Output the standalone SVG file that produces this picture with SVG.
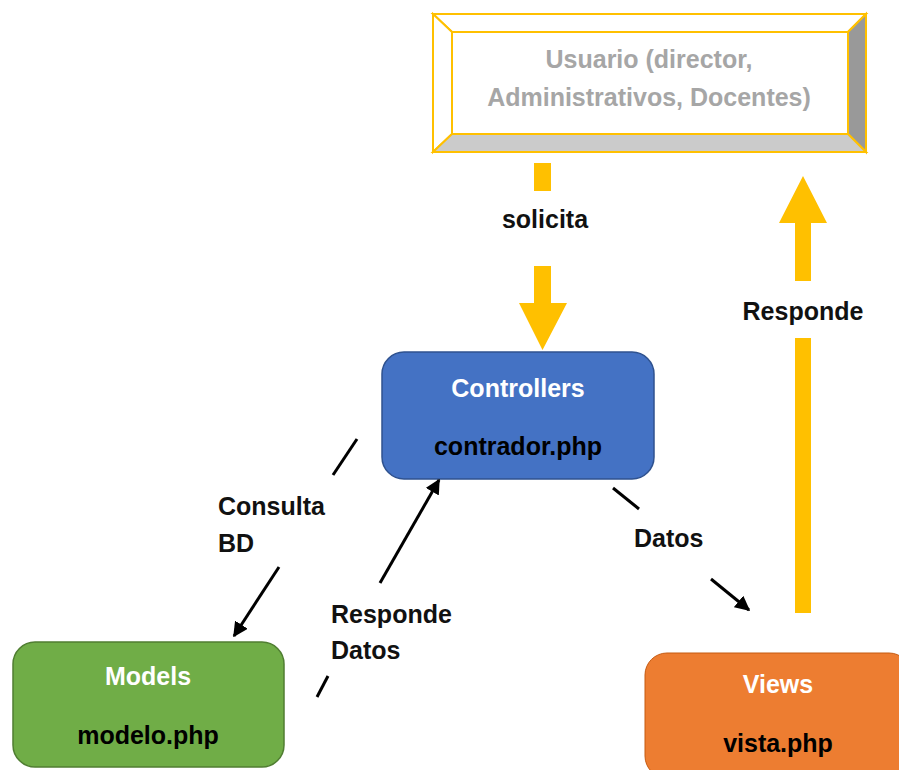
<svg xmlns="http://www.w3.org/2000/svg" width="899" height="770" viewBox="0 0 899 770">
<style>
text{font-family:"Liberation Sans",Arial,sans-serif;font-weight:bold;font-size:25px;text-anchor:middle}
.lbl{fill:#111}
.wt{fill:#fff}
.blk{fill:#000}
.conn{stroke:#000;stroke-width:3;fill:none}
.yel{fill:#FFC000}
.bev{stroke:#FFC000;stroke-width:2;stroke-linejoin:miter}
</style>
<defs>
<marker id="ah" viewBox="0 0 10 10" refX="9" refY="5" markerWidth="5" markerHeight="5" markerUnits="strokeWidth" orient="auto">
<path d="M0,0 L10,5 L0,10 z" fill="#000"/>
</marker>
</defs>
<rect width="899" height="770" fill="#fff"/>
<g id="usuario">
<polygon class="bev" points="433,14 866,14 848,32 452,32" fill="#fff"/>
<polygon class="bev" points="433,14 452,32 452,134 433,152" fill="#fff"/>
<polygon class="bev" points="866,14 866,152 848,134 848,32" fill="#999"/>
<polygon class="bev" points="433,152 452,134 848,134 866,152" fill="#cbcbcb"/>
<rect class="bev" x="452" y="32" width="396" height="102" fill="#fff"/>
<text x="649" y="68" fill="#a6a6a6">Usuario (director,</text>
<text x="649" y="106" fill="#a6a6a6">Administrativos, Docentes)</text>
</g>
<g id="controllers">
<rect x="382" y="352" width="272" height="127" rx="22" fill="#4472C4" stroke="#2F528F" stroke-width="1.5"/>
<text class="wt" x="518" y="397">Controllers</text>
<text class="blk" x="518" y="455">contrador.php</text>
</g>
<g id="models">
<rect x="13" y="642" width="271" height="125" rx="22" fill="#70AD47" stroke="#507E32" stroke-width="1.5"/>
<text class="wt" x="148" y="685">Models</text>
<text class="blk" x="148" y="744">modelo.php</text>
</g>
<g id="views">
<rect x="645" y="653" width="266" height="125" rx="22" fill="#ED7D31" stroke="#C55A11" stroke-width="1"/>
<text class="wt" x="778" y="693">Views</text>
<text class="blk" x="778" y="752">vista.php</text>
</g>
<g id="connectors">
<rect class="yel" x="534" y="163" width="17" height="28"/>
<polygon class="yel" points="534,266 551,266 551,303 567,303 542.5,350 519,303 534,303"/>
<text class="lbl" x="545" y="228">solicita</text>
<polygon class="yel" points="795,613 811,613 811,338 795,338"/>
<polygon class="yel" points="795,281 811,281 811,223 827,223 803,176 779,223 795,223"/>
<text class="lbl" x="803" y="320">Responde</text>
<line class="conn" x1="357" y1="439" x2="333" y2="475"/>
<line class="conn" x1="279" y1="567" x2="234" y2="636" marker-end="url(#ah)"/>
<text class="lbl" x="218" y="515" style="text-anchor:start">Consulta</text>
<text class="lbl" x="218" y="552" style="text-anchor:start">BD</text>
<line class="conn" x1="328" y1="676" x2="317" y2="697"/>
<line class="conn" x1="380" y1="583" x2="439" y2="480" marker-end="url(#ah)"/>
<text class="lbl" x="331" y="623" style="text-anchor:start">Responde</text>
<text class="lbl" x="331" y="659" style="text-anchor:start">Datos</text>
<line class="conn" x1="613" y1="488" x2="639" y2="509"/>
<line class="conn" x1="711" y1="579" x2="749" y2="610" marker-end="url(#ah)"/>
<text class="lbl" x="634" y="547" style="text-anchor:start">Datos</text>
</g>
</svg>
